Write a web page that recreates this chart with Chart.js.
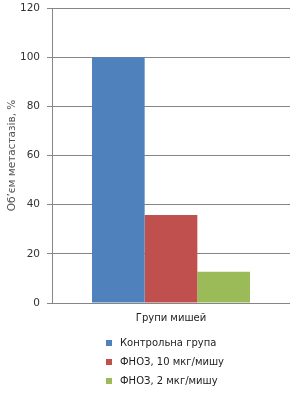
<!DOCTYPE html>
<html>
<head>
<meta charset="utf-8">
<script src="https://cdn.jsdelivr.net/npm/chart.js@4/dist/chart.umd.min.js"></script>
<style>
  html, body { margin: 0; padding: 0; background: #fff; }
  #wrap { width: 290px; height: 397px; position: relative; }
</style>
</head>
<body>
<div id="wrap"><canvas id="metChart"></canvas></div>
<script>
// data
const groupLabels = ['Групи мишей'];
const seriesNames = ['Контрольна група', 'ФНОЗ, 10 мкг/мишу', 'ФНОЗ, 2 мкг/мишу'];
const seriesValues = [[100], [35.8], [12.7]];
const seriesColors = ['#4F81BD', '#C0504D', '#9BBB59'];
const yTicks = [0, 20, 40, 60, 80, 100, 120];

const fontFamily = '"DejaVu Sans", Verdana, sans-serif';

// legend drawn as a vertical list under the axis
const listLegend = {
    id: 'listLegend',
    afterDraw(chart) {
        const ctx = chart.ctx;
        ctx.save();
        ctx.font = '10px ' + fontFamily;
        ctx.textBaseline = 'middle';
        ctx.textAlign = 'left';
        chart.data.datasets.forEach((ds, i) => {
            const y = 343 + i * 19;
            ctx.fillStyle = ds.backgroundColor;
            ctx.fillRect(106, y - 3, 6, 6);
            ctx.fillStyle = '#222';
            ctx.fillText(ds.label, 120, y);
        });
        ctx.restore();
    }
};

const ctx = document.getElementById('metChart').getContext('2d');

new Chart(ctx, {
    type: 'bar',
    data: {
        labels: groupLabels,
        datasets: seriesNames.map((name, i) => ({
            label: name,
            data: seriesValues[i],
            backgroundColor: seriesColors[i],
            borderWidth: 0
        }))
    },
    options: {
        responsive: true,
        maintainAspectRatio: false,
        animation: false,
        categoryPercentage: 0.664,
        barPercentage: 1,
        layout: { padding: { top: 8, right: 0, bottom: 73, left: 0 } },
        plugins: {
            legend: { display: false },
            tooltip: { enabled: false }
        },
        scales: {
            x: {
                grid: { display: false, drawTicks: false },
                border: { color: '#868686', width: 1 },
                ticks: {
                    color: '#222',
                    padding: 9,
                    font: { family: fontFamily, size: 10 }
                },
                afterFit(scale) { scale.height = 21; }
            },
            y: {
                min: 0,
                max: 120,
                afterBuildTicks(scale) {
                    scale.ticks = yTicks.map(v => ({ value: v }));
                },
                grid: { color: '#868686', tickLength: 5, tickColor: '#868686' },
                border: { color: '#868686' },
                ticks: {
                    color: '#333',
                    padding: 7,
                    font: { family: fontFamily, size: 10.5 }
                },
                title: {
                    display: true,
                    text: 'Об\u2019єм метастазів, %',
                    color: '#555',
                    padding: { top: 6, bottom: 0 },
                    font: { family: fontFamily, size: 10.5 }
                },
                afterFit(scale) {
                    scale.width = 52;
                    scale.paddingTop = 0;
                    scale.paddingBottom = 0;
                }
            }
        }
    },
    plugins: [listLegend]
});
</script>
</body>
</html>
